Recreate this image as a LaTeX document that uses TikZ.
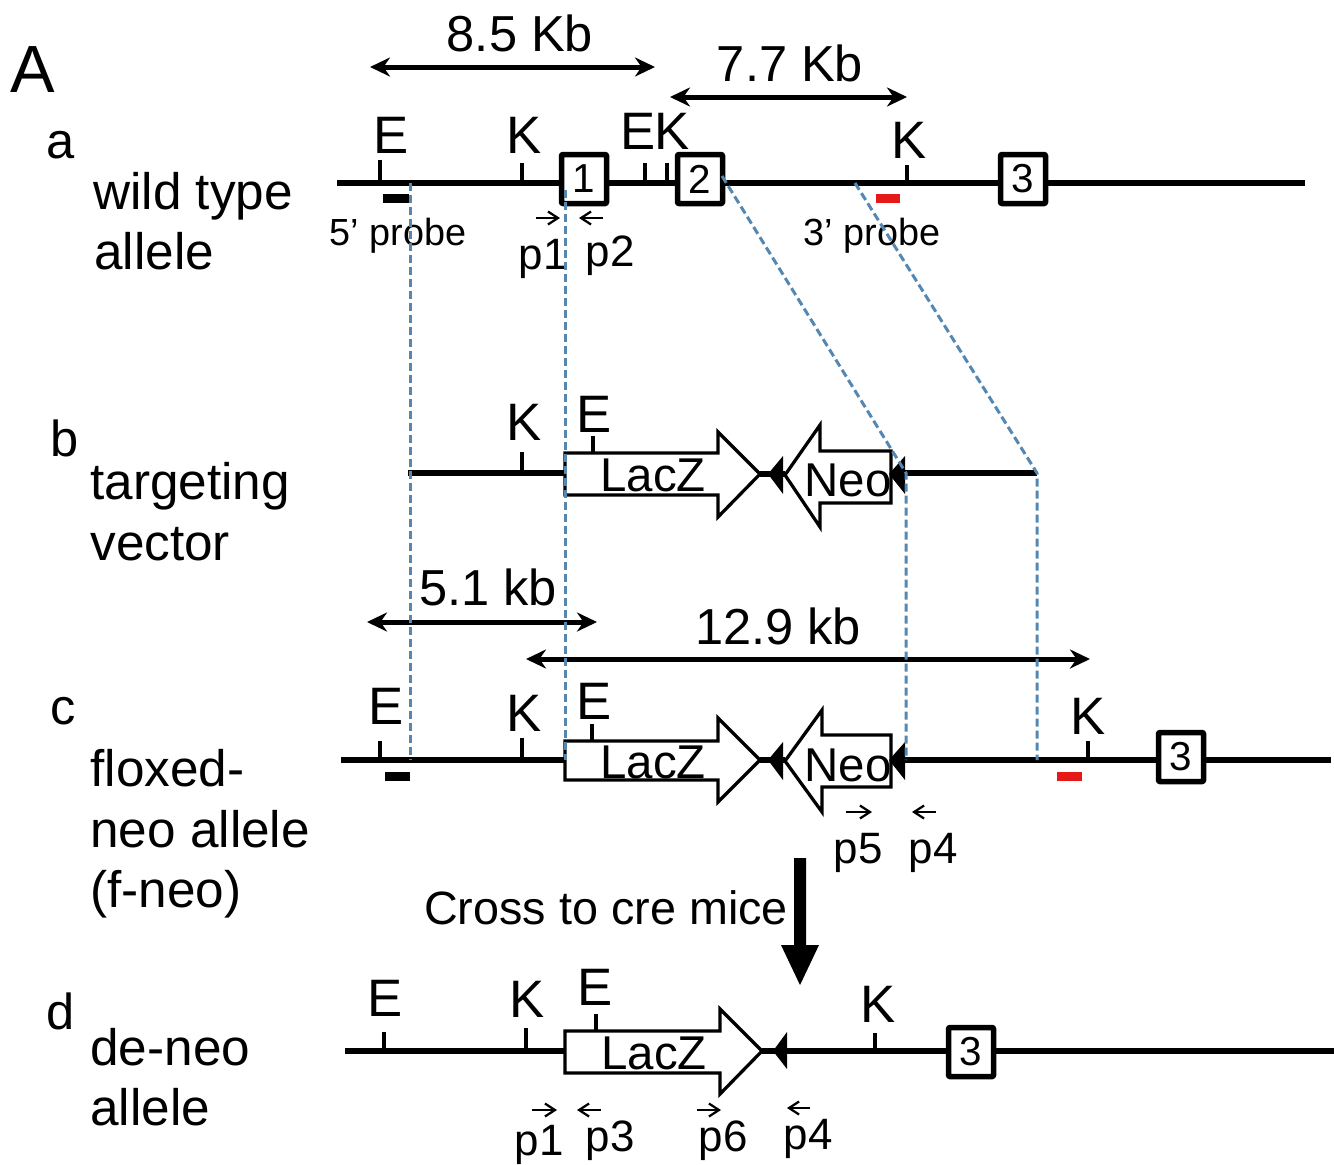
\documentclass[tikz,border=0pt]{standalone}
\usepackage{fontspec}
\setmainfont{Liberation Sans}
\usetikzlibrary{arrows.meta}
\definecolor{dashblue}{RGB}{84,136,178}
\definecolor{probered}{RGB}{230,25,25}
\tikzset{
	backbone/.style={line width=0.105cm, black},
	site/.style={line width=0.07cm, black},
	cassette/.style={draw, fill=white, line width=0.065cm, line join=miter},
	loxp/.style={fill=black},
	homology/.style={dashblue, line width=0.06cm, dash pattern=on 0.16cm off 0.08cm},
	span/.style={line width=0.1cm, {Stealth[length=0.4cm,width=0.38cm]}-{Stealth[length=0.4cm,width=0.38cm]}},
	primer/.style={line width=0.045cm, -{Straight Barb[length=0.2cm,width=0.26cm]}},
	exon/.style={draw, fill=white, line width=0.11cm, rounded corners=0.02cm, minimum width=0.9cm, minimum height=0.98cm, inner sep=0pt, font=\fontsize{23}{23}\selectfont},
	txt/.style={anchor=base, inner sep=0pt, font=\fontsize{30}{30}\selectfont},
	sizetxt/.style={anchor=base, inner sep=0pt, font=\fontsize{28.8}{28.8}\selectfont},
	boxtxt/.style={anchor=base, inner sep=0pt, font=\fontsize{27}{27}\selectfont},
	rowtxt/.style={anchor=base west, inner sep=0pt, font=\fontsize{29.2}{29.2}\selectfont},
	small/.style={anchor=base, inner sep=0pt, font=\fontsize{21.5}{21.5}\selectfont},
	ptxt/.style={anchor=base, inner sep=0pt, font=\fontsize{25}{25}\selectfont}
}
\begin{document}
\begin{tikzpicture}[x=0.02cm, y=-0.02cm, line join=round]
	\useasboundingbox (0,0) rectangle (1334,1164);

	% backbone of each allele
	\draw[backbone] (337,183) -- (1305,183);
	\draw[backbone] (408,473) -- (565,473);
	\draw[backbone] (760,474) -- (785,474);
	\draw[backbone] (905,473) -- (1037,473);
	\draw[backbone] (341,760) -- (565,760);
	\draw[backbone] (760,760) -- (785,760);
	\draw[backbone] (905,760) -- (1331,760);
	\draw[backbone] (345,1051) -- (565,1051);
	\draw[backbone] (762,1051) -- (1334,1051);

	% restriction sites
	\foreach \x/\y/\h in {380/183/160, 522/183/163, 645/183/163, 667/183/163, 907/183/165,
		522/473/452, 593/453/436,
		380/760/741, 522/760/738, 592/741/724, 1088/760/741,
		384/1051/1032, 526/1051/1028, 596/1031/1014, 875/1051/1033} {
		\draw[site] (\x,\y) -- (\x,\h);
	}

	% LacZ and Neo cassettes
	\draw[cassette] (565,453) -- (718,453) -- (718,432) -- (760,474) -- (718,517) -- (718,495) -- (565,495) -- cycle;
	\draw[cassette] (891,451) -- (820,451) -- (820,425) -- (785,475) -- (820,527) -- (820,503) -- (891,503) -- cycle;
	\draw[cassette] (565,741) -- (718,741) -- (718,718) -- (760,760) -- (718,802) -- (718,780) -- (565,780) -- cycle;
	\draw[cassette] (891,735) -- (822,735) -- (822,710) -- (785,761) -- (822,812) -- (822,787) -- (891,787) -- cycle;
	\draw[cassette] (565,1031) -- (720,1031) -- (720,1009) -- (762,1051) -- (720,1094) -- (720,1073) -- (565,1073) -- cycle;

	% loxP triangles
	\fill[loxp] (768,474) -- (783,456) -- (783,494) -- cycle;
	\fill[loxp] (889,474) -- (905,456) -- (905,494) -- cycle;
	\fill[loxp] (768,760) -- (783,742) -- (783,780) -- cycle;
	\fill[loxp] (889,760) -- (905,742) -- (905,780) -- cycle;
	\fill[loxp] (773,1051) -- (787,1032) -- (787,1069) -- cycle;

	% exons
	\node[exon] (exonA1) at (584,179) {1};
	\node[exon] (exonA2) at (700,179) {2};
	\node[exon] (exonA3) at (1023,179) {3};
	\node[exon] (exonC3) at (1181,757) {3};
	\node[exon] (exonD3) at (971,1052) {3};

	% probes
	\fill[black] (383,194) rectangle (409,203);
	\fill[probered] (876,194) rectangle (900,203);
	\fill[black] (385,772) rectangle (410,781);
	\fill[probered] (1057,772) rectangle (1082,781);

	% size arrows
	\coordinate (wtEl) at (370,67);
	\coordinate (wtEr) at (655,67);
	\coordinate (wtKl) at (670,97);
	\coordinate (wtKr) at (907,97);
	\coordinate (flEl) at (367,622);
	\coordinate (flEr) at (597,622);
	\coordinate (flKl) at (526,659);
	\coordinate (flKr) at (1090,659);
	\draw[span] (wtEl) -- (wtEr);
	\draw[span] (wtKl) -- (wtKr);
	\draw[span] (flEl) -- (flEr);
	\draw[span] (flKl) -- (flKr);

	% primers
	\foreach \a/\b/\y in {536/560/218, 603/579/218, 846/872/812, 936/912/812,
		532/557/1110, 601/577/1110, 697/721/1110, 810/787/1108} {
		\draw[primer] (\a,\y) -- (\b,\y);
	}

	% cross arrow
	\fill[black] (794,858) -- (806,858) -- (806,945) -- (819,945) -- (800,985) -- (781,945) -- (794,945) -- cycle;

	% site letters
	\node[txt] (eA) at (391,153) {E};
	\node[txt] (kA) at (524,153) {K};
	\node[txt] (eB) at (638,149) {E};
	\node[txt] (kB) at (672,149) {K};
	\node[txt] (kC) at (909,158) {K};
	\node[txt] (kD) at (524,440) {K};
	\node[txt] (eD) at (594,432) {E};
	\node[txt] (eE) at (386,724) {E};
	\node[txt] (kE) at (524,731) {K};
	\node[txt] (eF) at (594,719) {E};
	\node[txt] (kF) at (1088,734) {K};
	\node[txt] (eG) at (385,1016) {E};
	\node[txt] (kG) at (527,1017) {K};
	\node[txt] (eH) at (595,1005) {E};
	\node[txt] (kH) at (878,1022) {K};

	% sizes and cassette names
	\node[sizetxt] (sizeA) at (520,51) {8.5 Kb};
	\node[sizetxt] (sizeB) at (790,81) {7.7 Kb};
	\node[sizetxt] (sizeC) at (488,605) {5.1 kb};
	\node[sizetxt] (sizeD) at (778,644) {12.9 kb};
	\node[boxtxt] (lacB) at (653,491) {LacZ};
	\node[boxtxt] (neoB) at (848,496) {Neo};
	\node[boxtxt] (lacC) at (653,778) {LacZ};
	\node[boxtxt] (neoC) at (848,781) {Neo};
	\node[boxtxt] (lacD) at (654,1069) {LacZ};
	\node[anchor=base, inner sep=0pt, font=\fontsize{26.6}{26.6}\selectfont] (cross) at (606,924) {Cross to cre mice};

	% probe and primer names
	\node[small] (probeL) at (398,245) {5’ probe};
	\node[small] (probeR) at (872,245) {3’ probe};
	\node[ptxt] (pA) at (543,269) {p1};
	\node[ptxt] (pB) at (610,266) {p2};
	\node[ptxt] (pC) at (858,863) {p5};
	\node[ptxt] (pD) at (933,863) {p4};
	\node[ptxt] (pE) at (539,1155) {p1};
	\node[ptxt] (pF) at (610,1151) {p3};
	\node[ptxt] (pG) at (723,1151) {p6};
	\node[ptxt] (pH) at (808,1149) {p4};

	% row names
	\node[anchor=base, inner sep=0pt, font=\fontsize{38}{38}\selectfont] (panel) at (33,92) {A};
	\node[sizetxt] (rowa) at (61,158) {a};
	\node[sizetxt] (rowb) at (65,456) {b};
	\node[sizetxt] (rowc) at (63,724) {c};
	\node[sizetxt] (rowd) at (61,1029) {d};
	\node[rowtxt] (wildA) at (93,209) {wild type};
	\node[rowtxt] (wildB) at (94,269) {allele};
	\node[rowtxt] (tarA) at (90,499) {targeting};
	\node[rowtxt] (tarB) at (90,560) {vector};
	\node[rowtxt] (floxA) at (90,786) {floxed-};
	\node[rowtxt] (floxB) at (90,847) {neo allele};
	\node[rowtxt] (floxC) at (90,907) {(f-neo)};
	\node[rowtxt] (deA) at (90,1065) {de-neo};
	\node[rowtxt] (deB) at (90,1125) {allele};

	% homology lines
	\coordinate (hA) at (410,183);
	\coordinate (hB) at (410,760);
	\coordinate (hC) at (565,190);
	\coordinate (hD) at (565,760);
	\coordinate (hE) at (722,176);
	\coordinate (hF) at (906,473);
	\coordinate (hG) at (906,760);
	\coordinate (hH) at (855,183);
	\coordinate (hI) at (1037,473);
	\coordinate (hJ) at (1037,760);
	\draw[homology] (hA) -- (hB);
	\draw[homology] (hC) -- (hD);
	\draw[homology] (hE) -- (hF) -- (hG);
	\draw[homology] (hH) -- (hI) -- (hJ);
\end{tikzpicture}
\end{document}
